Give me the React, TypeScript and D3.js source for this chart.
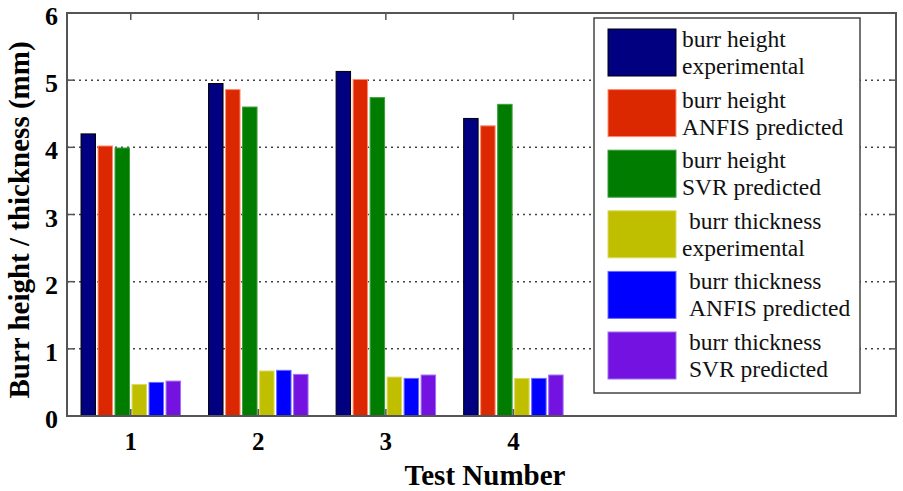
import * as d3 from "d3";
import React, { useEffect, useRef } from "react";

const tests = [1, 2, 3, 4];
const seriesNames = [
  ["burr height", "experimental"],
  ["burr height", "ANFIS predicted"],
  ["burr height", "SVR predicted"],
  ["burr thickness", "experimental"],
  ["burr thickness", "ANFIS predicted"],
  ["burr thickness", "SVR predicted"],
];
// leading indent (in px) of each legend line, as in the figure
const legendIndent = [
  [0, 0],
  [0, 0],
  [0, 0],
  [7, 0],
  [7, 7],
  [7, 7],
];
const heightExp = [4.2, 4.95, 5.13, 4.43];
const heightAnfis = [4.02, 4.86, 5.01, 4.32];
const heightSvr = [3.99, 4.6, 4.74, 4.64];
const thickExp = [0.47, 0.67, 0.58, 0.56];
const thickAnfis = [0.5, 0.68, 0.56, 0.56];
const thickSvr = [0.52, 0.62, 0.61, 0.61];
const yTicks = [0, 1, 2, 3, 4, 5, 6];

const colors = ["#000080", "#dc2800", "#007c00", "#bfbf00", "#0000ff", "#7412e2"];
const edges = ["#000000", "#ff8a70", "#3aa03a", "#dada60", "#6a6aff", "#a070f0"];

const App: React.FC = () => {
  const ref = useRef<SVGSVGElement | null>(null);

  useEffect(() => {
    if (!ref.current) return;
    const svg = d3.select(ref.current);
    svg.selectAll("*").remove();

    const width = 903;
    const height = 491;
    const margin = { top: 13, right: 7, bottom: 75, left: 67 };
    const series = [heightExp, heightAnfis, heightSvr, thickExp, thickAnfis, thickSvr];

    const x = d3
      .scaleLinear()
      .domain([0.5, 7])
      .range([margin.left, width - margin.right]);
    const y = d3
      .scaleLinear()
      .domain([0, 6])
      .range([height - margin.bottom, margin.top]);

    const step = x(2) - x(1);
    const slot = (step * 0.8) / series.length;
    const barW = slot * 0.85;
    const font = "Liberation Serif";

    // dotted grid
    svg
      .append("g")
      .selectAll("line")
      .data(yTicks.slice(1, -1))
      .join("line")
      .attr("x1", margin.left)
      .attr("x2", width - margin.right)
      .attr("y1", (d) => y(d))
      .attr("y2", (d) => y(d))
      .attr("stroke", "#444")
      .attr("stroke-width", 1.5)
      .attr("stroke-dasharray", "2,4");

    // bars
    series.forEach((vals, i) => {
      svg
        .append("g")
        .selectAll("rect")
        .data(vals)
        .join("rect")
        .attr("x", (_, j) => x(tests[j]) - (slot * series.length) / 2 + i * slot + (slot - barW) / 2)
        .attr("y", (d) => y(d))
        .attr("width", barW)
        .attr("height", (d) => y(0) - y(d))
        .attr("fill", colors[i])
        .attr("stroke", edges[i])
        .attr("stroke-width", 1);
    });

    // box
    svg
      .append("rect")
      .attr("x", margin.left)
      .attr("y", margin.top)
      .attr("width", width - margin.left - margin.right)
      .attr("height", height - margin.top - margin.bottom)
      .attr("fill", "none")
      .attr("stroke", "#555")
      .attr("stroke-width", 2);

    // inward ticks
    const tk = 7;
    tests.forEach((t) => {
      svg.append("line").attr("x1", x(t)).attr("x2", x(t)).attr("y1", y(0)).attr("y2", y(0) - tk).attr("stroke", "#555").attr("stroke-width", 1.5);
      svg.append("line").attr("x1", x(t)).attr("x2", x(t)).attr("y1", y(6)).attr("y2", y(6) + tk).attr("stroke", "#555").attr("stroke-width", 1.5);
    });
    yTicks.forEach((t) => {
      svg.append("line").attr("x1", margin.left).attr("x2", margin.left + tk).attr("y1", y(t)).attr("y2", y(t)).attr("stroke", "#555").attr("stroke-width", 1.5);
      svg.append("line").attr("x1", width - margin.right).attr("x2", width - margin.right - tk).attr("y1", y(t)).attr("y2", y(t)).attr("stroke", "#555").attr("stroke-width", 1.5);
    });

    // tick labels
    svg
      .append("g")
      .selectAll("text")
      .data(yTicks)
      .join("text")
      .attr("x", margin.left - 9)
      .attr("y", (d) => y(d) + 12)
      .attr("text-anchor", "end")
      .attr("font-family", font)
      .attr("font-weight", "bold")
      .attr("font-size", 26)
      .text((d) => d);

    svg
      .append("g")
      .selectAll("text")
      .data(tests)
      .join("text")
      .attr("x", (d) => x(d))
      .attr("y", y(0) + 34)
      .attr("text-anchor", "middle")
      .attr("font-family", font)
      .attr("font-weight", "bold")
      .attr("font-size", 25)
      .text((d) => d);

    svg
      .append("text")
      .attr("x", 485)
      .attr("y", 485)
      .attr("text-anchor", "middle")
      .attr("font-family", font)
      .attr("font-weight", "bold")
      .attr("font-size", 29)
      .text("Test Number");

    svg
      .append("text")
      .attr("transform", `translate(29,220) rotate(-90)`)
      .attr("text-anchor", "middle")
      .attr("font-family", font)
      .attr("font-weight", "bold")
      .attr("font-size", 29)
      .text("Burr height / thickness (mm)");

    // legend
    const lg = svg.append("g");
    lg.append("rect")
      .attr("x", 594)
      .attr("y", 18)
      .attr("width", 266)
      .attr("height", 375)
      .attr("fill", "white")
      .attr("stroke", "#444")
      .attr("stroke-width", 1.5);
    seriesNames.forEach((name, i) => {
      const top = 29 + i * 60.6;
      lg.append("rect")
        .attr("x", 608)
        .attr("y", top)
        .attr("width", 68)
        .attr("height", 47)
        .attr("fill", colors[i])
        .attr("stroke", edges[i])
        .attr("stroke-width", 1);
      name.forEach((line, k) => {
        lg.append("text")
          .attr("x", 682 + legendIndent[i][k])
          .attr("y", top + 18 + k * 27)
          .attr("font-family", font)
          .attr("font-size", 23.5)
          .attr("fill", "#111")
          .text(line);
      });
    });
  }, []);

  return <svg ref={ref} width={903} height={491} style={{ position: "absolute", left: 0, top: 0 }} />;
};

export default App;
